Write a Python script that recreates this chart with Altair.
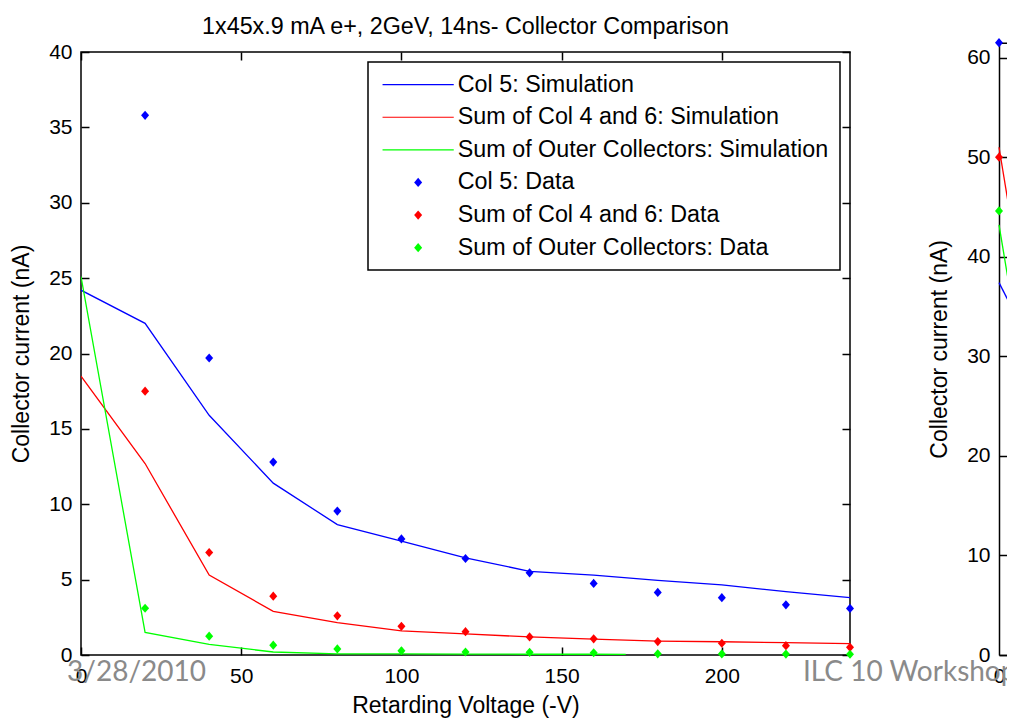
import altair as alt
import pandas as pd

# ---------------- data ----------------
TITLE = "1x45x.9 mA e+, 2GeV, 14ns- Collector Comparison"
X_TITLE = "Retarding Voltage (-V)"
Y_TITLE = "Collector current (nA)"
FOOTER_LEFT = "3/28/2010"
FOOTER_RIGHT = "ILC 10 Workshop"

SERIES = [
    "Col 5: Simulation",
    "Sum of Col 4 and 6: Simulation",
    "Sum of Outer Collectors: Simulation",
    "Col 5: Data",
    "Sum of Col 4 and 6: Data",
    "Sum of Outer Collectors: Data",
]
COLORS = ["#0000ff", "#ff0000", "#00ff00", "#0000ff", "#ff0000", "#00ff00"]

# main panel, simulation curves
sim_x = [0, 20, 40, 60, 80, 100, 120, 140, 160, 180, 200, 220, 240]
sim_col5 = [24.2, 22.0, 15.9, 11.4, 8.65, 7.55, 6.45, 5.55, 5.3, 4.95, 4.65, 4.2, 3.8]
sim_col46 = [18.5, 12.7, 5.3, 2.9, 2.15, 1.6, 1.4, 1.2, 1.05, 0.92, 0.88, 0.82, 0.75]
sim_outer_x = [0, 20, 40, 60, 80, 100, 120, 140, 160, 170]
sim_outer = [25.1, 1.5, 0.7, 0.2, 0.08, 0.07, 0.06, 0.05, 0.05, 0.04]

# main panel, measured data
data_x = [20, 40, 60, 80, 100, 120, 140, 160, 180, 200, 220, 240]
data_col5 = [35.8, 19.7, 12.8, 9.55, 7.7, 6.4, 5.45, 4.75, 4.15, 3.8, 3.33, 3.09]
data_col46 = [17.5, 6.8, 3.9, 2.6, 1.9, 1.55, 1.2, 1.07, 0.89, 0.78, 0.62, 0.51]
data_outer = [3.1, 1.25, 0.65, 0.4, 0.28, 0.2, 0.18, 0.15, 0.08, 0.07, 0.06, 0.05]

# second (cut-off) panel on the right
p2_sim_x = [0, 20]
p2_sim_col5 = [37.4, 24.8]
p2_sim_col46 = [51.0, 12.0]
p2_sim_outer = [43.2, 4.6]
p2_data_x = [0]
p2_data_col5 = [61.5]
p2_data_col46 = [50.0]
p2_data_outer = [44.6]

X_TICKS = [0, 50, 100, 150, 200]
Y_TICKS = [0, 5, 10, 15, 20, 25, 30, 35, 40]
Y2_TICKS = [0, 10, 20, 30, 40, 50, 60]


def rows(xs, ys, name):
    return [{"x": a, "y": b, "series": name} for a, b in zip(xs, ys)]


sim_df = pd.DataFrame(rows(sim_x, sim_col5, SERIES[0]) + rows(sim_x, sim_col46, SERIES[1])
                      + rows(sim_outer_x, sim_outer, SERIES[2]))
dat_df = pd.DataFrame(rows(data_x, data_col5, SERIES[3]) + rows(data_x, data_col46, SERIES[4])
                      + rows(data_x, data_outer, SERIES[5]))
sim2_df = pd.DataFrame(rows(p2_sim_x, p2_sim_col5, SERIES[0]) + rows(p2_sim_x, p2_sim_col46, SERIES[1])
                       + rows(p2_sim_x, p2_sim_outer, SERIES[2]))
dat2_df = pd.DataFrame(rows(p2_data_x, p2_data_col5, SERIES[3]) + rows(p2_data_x, p2_data_col46, SERIES[4])
                       + rows(p2_data_x, p2_data_outer, SERIES[5]))

# ---------------- styling ----------------
FONT = "Liberation Sans"
W, H = 769, 603
LINE_PATH = "M-8.9,-0.14L8.9,-0.14L8.9,0.14L-8.9,0.14Z"
DIAMOND = "M0,-1.15L1,0L0,1.15L-1,0Z"
SHAPES = [LINE_PATH, LINE_PATH, LINE_PATH, DIAMOND, DIAMOND, DIAMOND]

# legend (colour + shape) comes from the data points; lines use a separate stroke scale
color_scale = alt.Scale(domain=SERIES, range=COLORS)
shape_scale = alt.Scale(domain=SERIES, range=SHAPES)
stroke_scale = alt.Scale(domain=SERIES[:3], range=COLORS[:3])

x1 = alt.Scale(domain=[0, 240], nice=False, zero=False)
y1 = alt.Scale(domain=[0, 40], nice=False, zero=False)
x2 = alt.Scale(domain=[0, 240], range=[918, 918 + W], nice=False, zero=False)
y2 = alt.Scale(domain=[0, 61.5], range=[H, -9.3], nice=False, zero=False)

AX = dict(grid=False, labelFont=FONT, labelFontSize=21, labelColor="black",
          titleFont=FONT, titleFontSize=23, titleFontWeight="normal", titleColor="black",
          tickColor="black", tickWidth=1.5, domainColor="black", domainWidth=1.5,
          labelFlush=False, labelOverlap=False)

legend = alt.Legend(title=None, orient="none", legendX=287, legendY=10,
                    strokeColor="black", fillColor="white", padding=11,
                    symbolSize=64, symbolStrokeWidth=0, symbolOffset=27.5,
                    symbolOpacity=1, labelOffset=28, labelFont=FONT, labelFontSize=23.3,
                    labelColor="black", labelLimit=1000, rowPadding=8.6)

lines1 = alt.Chart(sim_df).mark_line(strokeWidth=1.3, clip=True).encode(
    x=alt.X("x:Q", scale=x1, axis=alt.Axis(orient="bottom", values=X_TICKS, offset=-8, tickSize=8,
                                           domain=False, labelPadding=10, title=X_TITLE,
                                           titleBaseline="alphabetic", titleY=65, **AX)),
    y=alt.Y("y:Q", scale=y1, axis=alt.Axis(orient="left", values=Y_TICKS, offset=-8, tickSize=8,
                                           domain=False, labelPadding=9, title=Y_TITLE,
                                           titlePadding=15, **AX)),
    stroke=alt.Stroke("series:N", scale=stroke_scale, legend=None),
)

pts1 = alt.Chart(dat_df).mark_point(filled=True, size=64, opacity=1).encode(
    x=alt.X("x:Q", scale=x1, axis=alt.Axis(orient="top", values=X_TICKS, offset=-8, tickSize=8,
                                           domain=False, labels=False, title=None, **AX)),
    y=alt.Y("y:Q", scale=y1, axis=alt.Axis(orient="right", values=Y_TICKS, offset=-8, tickSize=8,
                                           domain=False, labels=False, title=None, **AX)),
    color=alt.Color("series:N", scale=color_scale, legend=legend),
    shape=alt.Shape("series:N", scale=shape_scale, legend=legend),
)

lines2 = alt.Chart(sim2_df).mark_line(strokeWidth=1.3).encode(
    x=alt.X("x:Q", scale=x2, axis=alt.Axis(orient="bottom", values=X_TICKS, offset=0, ticks=False,
                                           tickSize=0, domain=True, labelPadding=10, title=None, **AX)),
    y=alt.Y("y:Q", scale=y2, axis=alt.Axis(orient="left", values=Y2_TICKS, offset=-918, ticks=False,
                                           tickSize=0, domain=True, labelPadding=9, title=Y_TITLE,
                                           titlePadding=15, **AX)),
    stroke=alt.Stroke("series:N", scale=stroke_scale, legend=None),
)

pts2 = alt.Chart(dat2_df).mark_point(filled=True, size=64, opacity=1).encode(
    x=alt.X("x:Q", scale=x2, axis=alt.Axis(orient="top", values=X_TICKS, offset=9.3, ticks=False,
                                           tickSize=0, domain=True, labels=False, title=None, **AX)),
    y=alt.Y("y:Q", scale=y2, axis=alt.Axis(orient="left", values=Y2_TICKS, offset=-926, tickSize=8,
                                           domain=False, labels=False, title=None, **AX)),
    color=alt.Color("series:N", scale=color_scale, legend=legend),
    shape=alt.Shape("series:N", scale=shape_scale, legend=legend),
)

foot1 = alt.Chart(pd.DataFrame({"t": [FOOTER_LEFT]})).mark_text(
    align="left", baseline="alphabetic", font="Lato", fontSize=28, color="#8a8a8a"
).encode(x=alt.value(-14), y=alt.value(629), text="t:N")

foot2 = alt.Chart(pd.DataFrame({"t": [FOOTER_RIGHT]})).mark_text(
    align="left", baseline="alphabetic", font="Lato", fontSize=28, color="#8a8a8a"
).encode(x=alt.value(722), y=alt.value(629), text="t:N")

chart = alt.layer(pts1, lines1, lines2, pts2, foot1, foot2).resolve_scale(
    x="independent", y="independent"
).resolve_axis(
    x="independent", y="independent"
).properties(
    width=W, height=H,
    title=alt.TitleParams(TITLE, font=FONT, fontSize=23.3, fontWeight="normal", color="black",
                          anchor="middle", frame="group", offset=-1),
    autosize=alt.AutoSizeParams(type="none"),
    padding={"left": 73, "top": 44, "right": 157, "bottom": 63},
).configure_view(
    stroke="black", strokeWidth=1.5
).configure_legend(
    strokeWidth=1.5
)

chart.save("out.html", embed_options={"renderer": "svg", "actions": False})
